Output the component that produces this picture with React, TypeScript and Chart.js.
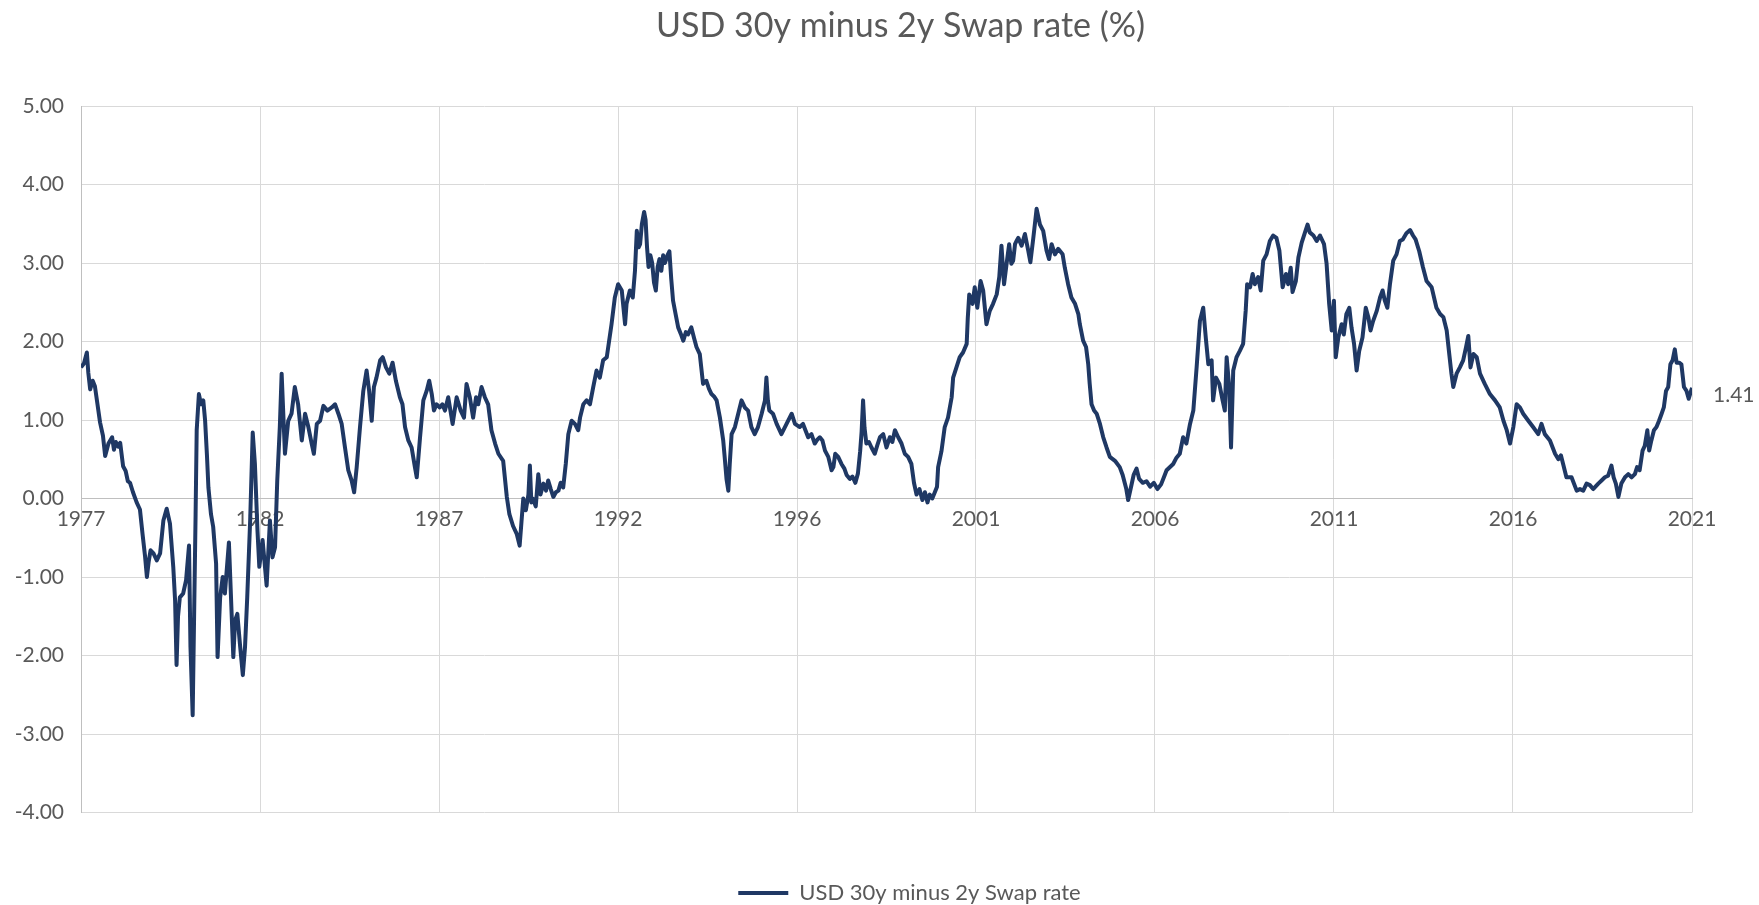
import React, { useEffect, useRef } from "react";
import { Chart, registerables } from "chart.js";

Chart.register(...registerables);

const chartTitle = "USD 30y minus 2y Swap rate (%)";
const seriesName = "USD 30y minus 2y Swap rate";
const xTickLabels = ["1977", "1982", "1987", "1992", "1996", "2001", "2006", "2011", "2016", "2021"];
const xStart = 1977.4;
const xEnd = 2021.4;
const yMin = -4;
const yMax = 5;
const lastValueLabel = "1.41";

// decimal year of each observation
const years = [
  1977.40, 1977.48, 1977.56, 1977.60, 1977.65, 1977.72, 1977.78, 1977.85, 1977.92, 1978.00,
  1978.06, 1978.15, 1978.25, 1978.30, 1978.35, 1978.42, 1978.47, 1978.55, 1978.62, 1978.68,
  1978.74, 1978.82, 1978.92, 1979.01, 1979.08, 1979.15, 1979.20, 1979.25, 1979.30, 1979.38,
  1979.47, 1979.56, 1979.65, 1979.74, 1979.83, 1979.92, 1979.97, 1980.01, 1980.05, 1980.10,
  1980.19, 1980.27, 1980.35, 1980.39, 1980.45, 1980.49, 1980.53, 1980.56, 1980.62, 1980.68,
  1980.74, 1980.79, 1980.84, 1980.88, 1980.95, 1981.01, 1981.09, 1981.13, 1981.20, 1981.27,
  1981.33, 1981.44, 1981.51, 1981.56, 1981.61, 1981.67, 1981.74, 1981.82, 1981.88, 1981.94,
  1982.02, 1982.09, 1982.15, 1982.22, 1982.27, 1982.36, 1982.47, 1982.56, 1982.63, 1982.70,
  1982.76, 1982.83, 1982.88, 1982.97, 1983.06, 1983.15, 1983.24, 1983.33, 1983.43, 1983.52,
  1983.61, 1983.70, 1983.76, 1983.84, 1983.93, 1984.02, 1984.13, 1984.25, 1984.34, 1984.43,
  1984.52, 1984.61, 1984.70, 1984.79, 1984.86, 1984.93, 1985.02, 1985.11, 1985.20, 1985.27,
  1985.34, 1985.40, 1985.47, 1985.57, 1985.64, 1985.73, 1985.82, 1985.91, 1986.00, 1986.11,
  1986.18, 1986.25, 1986.34, 1986.43, 1986.52, 1986.57, 1986.66, 1986.75, 1986.84, 1986.91,
  1986.98, 1987.04, 1987.11, 1987.20, 1987.27, 1987.34, 1987.43, 1987.55, 1987.66, 1987.77,
  1987.86, 1987.93, 1988.02, 1988.11, 1988.19, 1988.25, 1988.34, 1988.43, 1988.52, 1988.61,
  1988.71, 1988.80, 1988.93, 1989.03, 1989.10, 1989.20, 1989.30, 1989.38, 1989.43, 1989.48,
  1989.55, 1989.62, 1989.66, 1989.70, 1989.74, 1989.82, 1989.89, 1989.95, 1990.03, 1990.10,
  1990.16, 1990.23, 1990.30, 1990.37, 1990.44, 1990.50, 1990.57, 1990.64, 1990.71, 1990.80,
  1990.89, 1990.98, 1991.03, 1991.12, 1991.21, 1991.30, 1991.39, 1991.48, 1991.57, 1991.66,
  1991.76, 1991.80, 1991.89, 1991.98, 1992.07, 1992.17, 1992.26, 1992.30, 1992.39, 1992.47,
  1992.53, 1992.58, 1992.63, 1992.67, 1992.72, 1992.78, 1992.82, 1992.86, 1992.90, 1992.95,
  1993.00, 1993.05, 1993.10, 1993.15, 1993.20, 1993.25, 1993.30, 1993.35, 1993.42, 1993.47,
  1993.52, 1993.57, 1993.64, 1993.71, 1993.78, 1993.85, 1993.92, 1993.98, 1994.07, 1994.14,
  1994.21, 1994.30, 1994.39, 1994.48, 1994.55, 1994.62, 1994.69, 1994.76, 1994.85, 1994.94,
  1994.98, 1995.03, 1995.08, 1995.12, 1995.17, 1995.26, 1995.35, 1995.44, 1995.53, 1995.62,
  1995.71, 1995.80, 1995.89, 1995.99, 1996.08, 1996.12, 1996.16, 1996.20, 1996.30, 1996.40,
  1996.53, 1996.67, 1996.81, 1996.90, 1997.03, 1997.12, 1997.26, 1997.35, 1997.44, 1997.51,
  1997.58, 1997.65, 1997.72, 1997.81, 1997.90, 1997.95, 1998.00, 1998.08, 1998.17, 1998.25,
  1998.31, 1998.40, 1998.47, 1998.55, 1998.62, 1998.68, 1998.72, 1998.76, 1998.80, 1998.85,
  1998.92, 1998.99, 1999.08, 1999.15, 1999.22, 1999.31, 1999.40, 1999.49, 1999.56, 1999.63,
  1999.72, 1999.81, 1999.90, 1999.99, 2000.08, 2000.15, 2000.22, 2000.30, 2000.38, 2000.45,
  2000.52, 2000.58, 2000.65, 2000.72, 2000.78, 2000.81, 2000.90, 2000.99, 2001.08, 2001.18,
  2001.22, 2001.31, 2001.40, 2001.49, 2001.59, 2001.62, 2001.66, 2001.75, 2001.81, 2001.88,
  2001.97, 2002.04, 2002.13, 2002.22, 2002.31, 2002.41, 2002.48, 2002.54, 2002.61, 2002.68,
  2002.75, 2002.81, 2002.86, 2002.91, 2002.95, 2003.00, 2003.09, 2003.18, 2003.27, 2003.33,
  2003.41, 2003.50, 2003.59, 2003.68, 2003.77, 2003.84, 2003.91, 2004.00, 2004.09, 2004.21,
  2004.27, 2004.36, 2004.45, 2004.55, 2004.64, 2004.68, 2004.77, 2004.85, 2004.91, 2004.95,
  2005.00, 2005.07, 2005.14, 2005.23, 2005.32, 2005.41, 2005.50, 2005.64, 2005.77, 2005.85,
  2005.95, 2006.00, 2006.08, 2006.15, 2006.23, 2006.30, 2006.40, 2006.50, 2006.60, 2006.70,
  2006.80, 2006.90, 2007.00, 2007.05, 2007.23, 2007.32, 2007.41, 2007.50, 2007.59, 2007.69,
  2007.78, 2007.87, 2007.96, 2008.05, 2008.12, 2008.19, 2008.28, 2008.32, 2008.40, 2008.49,
  2008.58, 2008.64, 2008.69, 2008.76, 2008.81, 2008.87, 2008.96, 2009.05, 2009.14, 2009.21,
  2009.25, 2009.33, 2009.40, 2009.46, 2009.55, 2009.62, 2009.69, 2009.78, 2009.87, 2009.96,
  2010.05, 2010.13, 2010.22, 2010.31, 2010.37, 2010.44, 2010.49, 2010.58, 2010.65, 2010.74,
  2010.83, 2010.90, 2010.96, 2011.06, 2011.15, 2011.24, 2011.35, 2011.42, 2011.49, 2011.56,
  2011.62, 2011.67, 2011.74, 2011.83, 2011.89, 2011.96, 2012.04, 2012.10, 2012.17, 2012.24,
  2012.31, 2012.40, 2012.49, 2012.56, 2012.62, 2012.69, 2012.79, 2012.88, 2012.95, 2013.01,
  2013.08, 2013.15, 2013.24, 2013.33, 2013.42, 2013.50, 2013.60, 2013.70, 2013.78, 2013.85,
  2013.95, 2014.05, 2014.15, 2014.29, 2014.42, 2014.52, 2014.61, 2014.70, 2014.77, 2014.83,
  2014.88, 2014.97, 2015.06, 2015.15, 2015.23, 2015.29, 2015.35, 2015.43, 2015.52, 2015.61,
  2015.74, 2015.88, 2016.02, 2016.15, 2016.25, 2016.34, 2016.43, 2016.52, 2016.61, 2016.70,
  2016.79, 2016.93, 2017.06, 2017.20, 2017.29, 2017.38, 2017.52, 2017.66, 2017.75, 2017.82,
  2017.88, 2017.97, 2018.11, 2018.25, 2018.34, 2018.43, 2018.52, 2018.61, 2018.70, 2018.84,
  2018.93, 2019.02, 2019.11, 2019.20, 2019.26, 2019.32, 2019.39, 2019.47, 2019.57, 2019.66,
  2019.75, 2019.84, 2019.90, 2019.97, 2020.05, 2020.11, 2020.18, 2020.23, 2020.29, 2020.36,
  2020.43, 2020.50, 2020.57, 2020.63, 2020.69, 2020.75, 2020.81, 2020.87, 2020.93, 2020.98,
  2021.05, 2021.11, 2021.18, 2021.25, 2021.31, 2021.36, 2021.40,
];

// 30y minus 2y swap spread, %
const spread = [
  1.67, 1.72, 1.86, 1.60, 1.39, 1.50, 1.43, 1.20, 0.97, 0.80,
  0.54, 0.70, 0.78, 0.62, 0.72, 0.66, 0.71, 0.41, 0.35, 0.22,
  0.20, 0.08, -0.05, -0.14, -0.45, -0.74, -1.00, -0.80, -0.66, -0.70,
  -0.79, -0.70, -0.28, -0.13, -0.32, -0.87, -1.30, -2.12, -1.50, -1.26,
  -1.21, -1.04, -0.60, -1.89, -2.76, -1.47, -0.20, 0.87, 1.33, 1.20,
  1.25, 0.99, 0.55, 0.14, -0.20, -0.36, -0.83, -2.02, -1.26, -1.00,
  -1.21, -0.56, -1.42, -2.02, -1.55, -1.47, -1.85, -2.25, -1.89, -1.26,
  -0.28, 0.84, 0.44, -0.41, -0.87, -0.53, -1.11, -0.28, -0.75, -0.62,
  0.23, 0.91, 1.59, 0.57, 0.99, 1.08, 1.42, 1.20, 0.74, 1.08,
  0.91, 0.70, 0.57, 0.95, 0.99, 1.18, 1.12, 1.16, 1.20, 1.08,
  0.95, 0.65, 0.36, 0.23, 0.08, 0.40, 0.91, 1.37, 1.63, 1.37,
  0.99, 1.42, 1.54, 1.76, 1.80, 1.67, 1.59, 1.73, 1.50, 1.29,
  1.20, 0.91, 0.74, 0.65, 0.40, 0.27, 0.78, 1.25, 1.37, 1.50,
  1.33, 1.12, 1.20, 1.16, 1.20, 1.12, 1.29, 0.95, 1.29, 1.12,
  1.03, 1.46, 1.29, 1.03, 1.29, 1.20, 1.42, 1.29, 1.20, 0.87,
  0.70, 0.57, 0.48, 0.02, -0.20, -0.35, -0.45, -0.60, -0.30, 0.00,
  -0.15, 0.05, 0.42, -0.05, 0.00, -0.10, 0.31, 0.05, 0.19, 0.10,
  0.23, 0.12, 0.02, 0.08, 0.10, 0.20, 0.14, 0.44, 0.82, 0.99,
  0.95, 0.87, 1.03, 1.20, 1.25, 1.20, 1.42, 1.63, 1.54, 1.76,
  1.80, 1.93, 2.22, 2.56, 2.73, 2.65, 2.22, 2.48, 2.65, 2.56,
  2.90, 3.41, 3.20, 3.24, 3.50, 3.65, 3.55, 3.20, 2.95, 3.10,
  3.00, 2.75, 2.65, 2.95, 3.05, 2.90, 3.10, 3.00, 3.10, 3.15,
  2.80, 2.52, 2.35, 2.18, 2.10, 2.01, 2.12, 2.09, 2.18, 2.05,
  1.93, 1.84, 1.46, 1.50, 1.40, 1.33, 1.30, 1.25, 1.03, 0.74,
  0.53, 0.25, 0.10, 0.45, 0.82, 0.91, 1.08, 1.25, 1.16, 1.12,
  0.91, 0.82, 0.91, 1.08, 1.25, 1.54, 1.25, 1.12, 1.08, 0.95,
  0.82, 0.95, 1.08, 0.95, 0.91, 0.95, 0.78, 0.82, 0.70, 0.75,
  0.78, 0.74, 0.61, 0.53, 0.36, 0.40, 0.57, 0.53, 0.44, 0.38,
  0.30, 0.25, 0.28, 0.20, 0.32, 0.60, 0.85, 1.25, 0.90, 0.70,
  0.72, 0.65, 0.57, 0.68, 0.78, 0.82, 0.65, 0.78, 0.72, 0.87,
  0.78, 0.70, 0.57, 0.53, 0.44, 0.20, 0.05, 0.12, -0.02, 0.08,
  -0.05, 0.05, 0.00, 0.08, 0.15, 0.40, 0.60, 0.91, 1.03, 1.29,
  1.54, 1.67, 1.80, 1.86, 1.97, 2.30, 2.60, 2.48, 2.69, 2.43,
  2.77, 2.65, 2.22, 2.39, 2.48, 2.60, 2.82, 3.22, 2.73, 2.99,
  3.24, 2.99, 3.03, 3.24, 3.28, 3.32, 3.22, 3.37, 3.16, 3.01,
  3.32, 3.69, 3.49, 3.41, 3.16, 3.05, 3.24, 3.11, 3.18, 3.11,
  2.94, 2.73, 2.56, 2.48, 2.35, 2.22, 2.01, 1.93, 1.71, 1.46,
  1.20, 1.12, 1.08, 0.95, 0.78, 0.65, 0.53, 0.48, 0.40, 0.30,
  0.12, -0.02, 0.15, 0.30, 0.38, 0.25, 0.20, 0.22, 0.15, 0.20,
  0.12, 0.18, 0.30, 0.36, 0.44, 0.52, 0.57, 0.78, 0.70, 0.95,
  1.12, 1.67, 2.26, 2.43, 2.05, 1.71, 1.76, 1.25, 1.54, 1.46,
  1.25, 1.12, 1.80, 1.42, 0.65, 1.63, 1.80, 1.88, 1.97, 2.39,
  2.73, 2.69, 2.86, 2.73, 2.82, 2.65, 3.03, 3.11, 3.28, 3.35,
  3.32, 3.16, 2.69, 2.86, 2.73, 2.94, 2.63, 2.77, 3.07, 3.26,
  3.39, 3.49, 3.39, 3.35, 3.28, 3.35, 3.24, 2.99, 2.48, 2.14,
  2.52, 1.80, 2.05, 2.22, 2.09, 2.35, 2.43, 2.18, 1.97, 1.63,
  1.88, 2.05, 2.43, 2.31, 2.14, 2.26, 2.39, 2.56, 2.65, 2.52,
  2.43, 2.73, 3.03, 3.11, 3.28, 3.30, 3.38, 3.42, 3.35, 3.30,
  3.15, 2.95, 2.77, 2.69, 2.43, 2.35, 2.31, 2.14, 1.84, 1.59,
  1.42, 1.59, 1.67, 1.76, 1.93, 2.07, 1.67, 1.84, 1.80, 1.59,
  1.46, 1.33, 1.25, 1.16, 0.99, 0.87, 0.70, 0.91, 1.20, 1.16,
  1.08, 0.99, 0.91, 0.82, 0.95, 0.82, 0.74, 0.57, 0.50, 0.55,
  0.44, 0.27, 0.27, 0.10, 0.12, 0.10, 0.19, 0.17, 0.12, 0.19,
  0.23, 0.27, 0.29, 0.42, 0.27, 0.19, 0.02, 0.19, 0.27, 0.31,
  0.27, 0.31, 0.40, 0.36, 0.61, 0.67, 0.87, 0.61, 0.74, 0.87,
  0.91, 0.99, 1.08, 1.16, 1.37, 1.42, 1.71, 1.76, 1.90, 1.73,
  1.73, 1.71, 1.42, 1.37, 1.27, 1.35, 1.41,
];

const FONT = "Lato";
const TEXT_COLOR = "#595959";
const LINE_COLOR = "#1f3864";
const GRID_COLOR = "#d9d9d9";
const TITLE_SHIFT = 14;
const LEGEND_SHIFT = 23;

const endLabelPlugin = {
  id: "endLabel",
  afterLayout(chart: any) {
    if (chart.titleBlock) {
      chart.titleBlock.left += TITLE_SHIFT;
      chart.titleBlock.right += TITLE_SHIFT;
    }
    if (chart.legend) {
      chart.legend.left += LEGEND_SHIFT;
      chart.legend.right += LEGEND_SHIFT;
    }
  },
  afterDatasetsDraw(chart: any) {
    const meta = chart.getDatasetMeta(0);
    const pts = meta.data;
    if (!pts || !pts.length) return;
    const p = pts[pts.length - 1];
    const ctx = chart.ctx;
    ctx.save();
    ctx.font = `21px ${FONT}`;
    ctx.fillStyle = TEXT_COLOR;
    ctx.textAlign = "left";
    ctx.textBaseline = "middle";
    ctx.fillText(lastValueLabel, p.x + 21, p.y + 7);
    ctx.restore();
  },
};

export default function App() {
  const canvasRef = useRef<HTMLCanvasElement | null>(null);

  useEffect(() => {
    document.body.style.margin = "0";
    const canvas = canvasRef.current;
    if (!canvas) return;
    const points = years.map((x, i) => ({ x, y: spread[i] }));
    const step = (xEnd - xStart) / (xTickLabels.length - 1);

    const chart = new Chart(canvas, {
      type: "line",
      data: {
        datasets: [
          {
            label: seriesName,
            data: points,
            borderColor: LINE_COLOR,
            backgroundColor: LINE_COLOR,
            borderWidth: 4,
            pointRadius: 0,
            tension: 0,
            borderJoinStyle: "round",
          },
        ],
      },
      options: {
        animation: false,
        responsive: true,
        maintainAspectRatio: false,
        devicePixelRatio: 1,
        layout: { padding: { top: 0, left: 0, right: 67, bottom: -9 } },
        plugins: {
          title: {
            display: true,
            text: chartTitle,
            color: TEXT_COLOR,
            fullSize: false,
            font: { family: FONT, size: 34, weight: "normal" },
            padding: { top: 6, bottom: 59.2 },
          },
          legend: {
            display: true,
            position: "bottom",
            fullSize: false,
            labels: {
              usePointStyle: true,
              pointStyle: "line",
              pointStyleWidth: 50,
              color: TEXT_COLOR,
              font: { family: FONT, size: 22 },
              padding: 69.5,
            },
          },
          tooltip: { enabled: false },
        },
        scales: {
          x: {
            type: "linear",
            position: { y: 0 } as any,
            min: xStart,
            max: xEnd,
            afterBuildTicks: (scale: any) => {
              scale.ticks = xTickLabels.map((_, i) => ({ value: xStart + i * step }));
            },
            afterFit: (scale: any) => {
              scale.height = 0;
            },
            ticks: {
              autoSkip: false,
              maxRotation: 0,
              minRotation: 0,
              padding: 8,
              color: TEXT_COLOR,
              font: { family: FONT, size: 21 },
              callback: (_v: any, i: number) => xTickLabels[i],
            },
            grid: { color: GRID_COLOR, lineWidth: 1, drawTicks: false },
            border: { display: true, color: "#bfbfbf", width: 1 },
          },
          y: {
            type: "linear",
            position: "left",
            min: yMin,
            max: yMax,
            afterFit: (scale: any) => {
              scale.width = 81;
            },
            ticks: {
              stepSize: 1,
              padding: 17,
              color: TEXT_COLOR,
              font: { family: FONT, size: 21 },
              callback: (v: any) => Number(v).toFixed(2),
            },
            grid: { color: GRID_COLOR, lineWidth: 1, drawTicks: false },
            border: { display: true, color: "#bfbfbf", width: 1 },
          },
        },
      },
      plugins: [endLabelPlugin],
    });

    return () => {
      chart.destroy();
    };
  }, []);

  return (
    <div style={{ position: "relative", width: "1759px", height: "905px" }}>
      <canvas ref={canvasRef} />
    </div>
  );
}
